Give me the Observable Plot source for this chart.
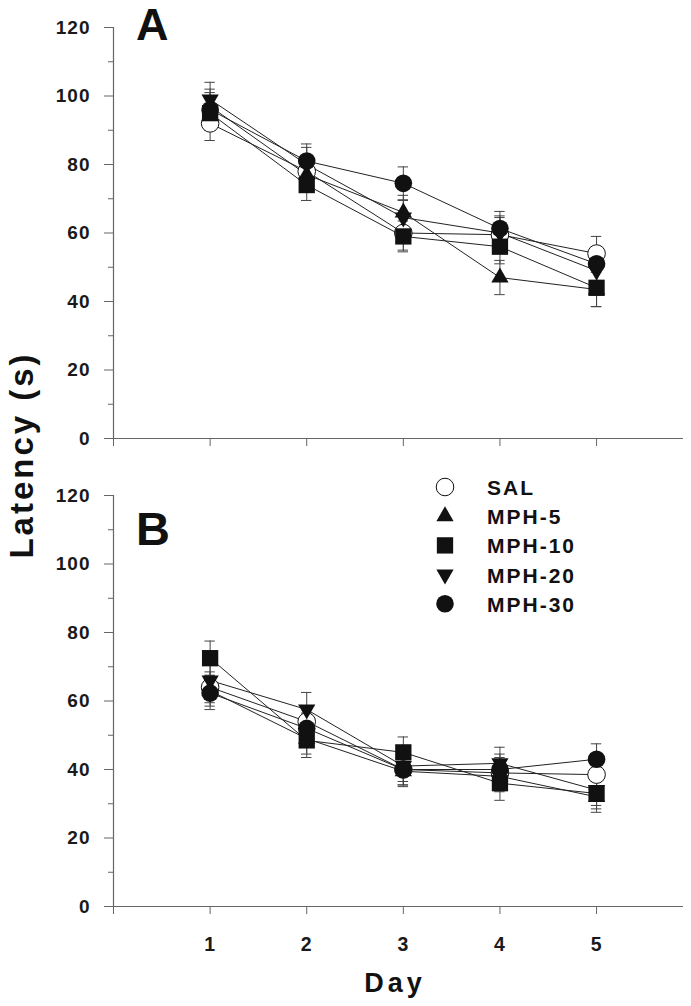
<!DOCTYPE html>
<html><head><meta charset="utf-8">
<script src="https://cdn.jsdelivr.net/npm/d3@7"></script>
<script src="https://cdn.jsdelivr.net/npm/@observablehq/plot@0.6"></script>
<style>
body{margin:0;background:#fff;}
#wrap{position:relative;width:691px;height:1006px;overflow:hidden;}
#wrap svg.plot{display:block;}
#over{position:absolute;left:0;top:0;pointer-events:none;}
text{font-family:"Liberation Sans",Arial,sans-serif;}
</style></head><body><div id="wrap"></div>
<script>
// ---------- data ----------
const days = [1, 2, 3, 4, 5];
const groups = ["SAL", "MPH-5", "MPH-10", "MPH-20", "MPH-30"];
const dayTicks = [0, 1, 2, 3, 4, 5];
const yTicks = [0, 20, 40, 60, 80, 100, 120];
const yMinorTicks = [10, 30, 50, 70, 90, 110];

// Panel A: latency means (s)
const A_SAL   = [92, 78, 60, 59.5, 54];
const A_MPH5  = [97, 77, 66, 47, 43.5];
const A_MPH10 = [95, 74, 59, 56, 44];
const A_MPH20 = [99, 80, 64.5, 60, 49];
const A_MPH30 = [96, 81, 74.5, 61.3, 51];
// Panel A: SEM
const A_SAL_se   = [5, 4.5, 5, 5, 5];
const A_MPH5_se  = [5, 5, 5, 5, 5];
const A_MPH10_se = [5, 4.5, 4.5, 5, 5.5];
const A_MPH20_se = [5, 5, 5, 5, 5];
const A_MPH30_se = [5, 5, 4.8, 5, 5];

// Panel B: latency means (s)
const B_SAL   = [64, 54, 40, 39, 38.5];
const B_MPH5  = [63, 49, 39.5, 38, 32];
const B_MPH10 = [72.5, 48.5, 45, 36, 33];
const B_MPH20 = [66, 57.5, 41, 41.8, 34];
const B_MPH30 = [62.3, 52, 40, 40, 43];
// Panel B: SEM
const B_SAL_se   = [4.5, 4.5, 4.5, 4.5, 4.5];
const B_MPH5_se  = [4.5, 4.5, 4.5, 4.5, 4.5];
const B_MPH10_se = [5, 5, 4.5, 5, 4.5];
const B_MPH20_se = [4.5, 5, 4.5, 4.7, 4.5];
const B_MPH30_se = [4.8, 4.5, 4.5, 4.5, 4.5];

const panelA = {means: [A_SAL, A_MPH5, A_MPH10, A_MPH20, A_MPH30], sems: [A_SAL_se, A_MPH5_se, A_MPH10_se, A_MPH20_se, A_MPH30_se]};
const panelB = {means: [B_SAL, B_MPH5, B_MPH10, B_MPH20, B_MPH30], sems: [B_SAL_se, B_MPH5_se, B_MPH10_se, B_MPH20_se, B_MPH30_se]};

// ---------- styles ----------
const sym = {
  "SAL":    {symbol: "circle",   r: 8.8, fill: "white", stroke: "#111", rotate: 0},
  "MPH-5":  {symbol: "triangle", r: 6.4, fill: "#111",  stroke: "none", rotate: 0},
  "MPH-10": {symbol: "square",   r: 9.2, fill: "#111",  stroke: "none", rotate: 0},
  "MPH-20": {symbol: "triangle", r: 6.4, fill: "#111",  stroke: "none", rotate: 180},
  "MPH-30": {symbol: "circle",   r: 8.8, fill: "#111",  stroke: "none", rotate: 0}
};
const FONT = "Liberation Sans, Arial, sans-serif";
const axisColor = "#666";

function rowsOf(panel) {
  const rows = [];
  groups.forEach((g, gi) => days.forEach((d, di) => rows.push({group: g, day: d, mean: panel.means[gi][di], se: panel.sems[gi][di]})));
  return rows;
}

function makePanel(panel, opt) {
  const rows = rowsOf(panel);
  const capHalf = 0.054;
  const marks = [
    Plot.ruleX([0], {y1: 0, y2: 120, stroke: axisColor, strokeWidth: 1.2}),
    Plot.ruleY([0], {x1: 0, x2: 5.9, stroke: axisColor, strokeWidth: 1.2}),
    Plot.axisY(yTicks, {label: null, tickSize: 9, tickPadding: 14, stroke: axisColor, fill: "#1a1a1a", fontSize: 19, fontWeight: "bold", fontFamily: FONT}),
    Plot.axisY(yMinorTicks, {label: null, tickSize: 5, text: null, stroke: axisColor}),
    opt.xLabels
      ? Plot.axisX(dayTicks, {label: null, tickSize: 8, tickPadding: 23, stroke: axisColor, fill: "#1a1a1a", fontSize: 19.5, fontWeight: "bold", fontFamily: FONT, tickFormat: d => d === 0 ? "" : d})
      : Plot.axisX(dayTicks, {label: null, tickSize: 8, text: null, stroke: axisColor}),
    // error bars
    Plot.ruleX(rows, {x: "day", y1: d => d.mean - d.se, y2: d => d.mean + d.se, stroke: "#444", strokeWidth: 1}),
    Plot.ruleY(rows, {y: d => d.mean + d.se, x1: d => d.day - capHalf, x2: d => d.day + capHalf, stroke: "#444", strokeWidth: 1}),
    Plot.ruleY(rows, {y: d => d.mean - d.se, x1: d => d.day - capHalf, x2: d => d.day + capHalf, stroke: "#444", strokeWidth: 1}),
    // lines
    Plot.line(rows, {x: "day", y: "mean", z: "group", stroke: "#222", strokeWidth: 1}),
    // markers
    ...groups.map(g => Plot.dot(rows.filter(d => d.group === g), {
      x: "day", y: "mean", symbol: sym[g].symbol, r: sym[g].r, fill: sym[g].fill,
      stroke: sym[g].stroke, strokeWidth: 1, rotate: sym[g].rotate
    }))
  ];
  return Plot.plot({
    width: 691, height: opt.height,
    marginLeft: 113, marginRight: 8, marginTop: opt.mt, marginBottom: opt.mb,
    x: {domain: [0, 5.9], axis: null, label: null},
    y: {domain: [0, 120], axis: null, label: null},
    style: {background: "white", overflow: "visible"},
    marks
  });
}

const wrap = document.getElementById("wrap");
const svgA = makePanel(panelA, {height: 466, mt: 27, mb: 28, xLabels: false});
const svgB = makePanel(panelB, {height: 540, mt: 29, mb: 100, xLabels: true});
svgA.classList.add("plot"); svgB.classList.add("plot");
wrap.appendChild(svgA); wrap.appendChild(svgB);
wrap.querySelectorAll("svg.plot g[aria-label='y-axis tick label'] text, svg.plot g[aria-label='x-axis tick label'] text").forEach(t => t.setAttribute("letter-spacing", "1"));

// ---------- overlay text (panel letters, axis titles, legend) ----------
const over = d3.select(wrap).append("svg").attr("id", "over").attr("width", 691).attr("height", 1006);
over.append("text").attr("x", 136).attr("y", 40).attr("font-size", 45).attr("font-weight", "bold").attr("fill", "#111").text("A");
over.append("text").attr("x", 136).attr("y", 545).attr("font-size", 47).attr("font-weight", "bold").attr("fill", "#111").text("B");
over.append("text").attr("transform", "translate(33,455) rotate(-90)").attr("text-anchor", "middle")
  .attr("font-size", 33).attr("font-weight", "bold").attr("letter-spacing", 3).attr("fill", "#111").text("Latency (s)");
over.append("text").attr("x", 395).attr("y", 992).attr("text-anchor", "middle")
  .attr("font-size", 27).attr("font-weight", "bold").attr("letter-spacing", 4).attr("fill", "#111").text("Day");

const legY0 = 487, legStep = 29.2;
groups.forEach((g, i) => {
  const cy = legY0 + i * legStep;
  const s = sym[g];
  const shape = s.symbol === "circle" ? d3.symbolCircle : s.symbol === "square" ? d3.symbolSquare : d3.symbolTriangle;
  over.append("path").attr("d", d3.symbol(shape, Math.PI * s.r * s.r)())
    .attr("transform", `translate(445,${cy}) rotate(${s.rotate})`)
    .attr("fill", s.fill).attr("stroke", s.stroke === "none" ? null : s.stroke).attr("stroke-width", 1);
  over.append("text").attr("x", 487).attr("y", cy + 8).attr("font-size", 21).attr("font-weight", "bold")
    .attr("letter-spacing", 2).attr("fill", "#111").text(g);
});
</script></body></html>
